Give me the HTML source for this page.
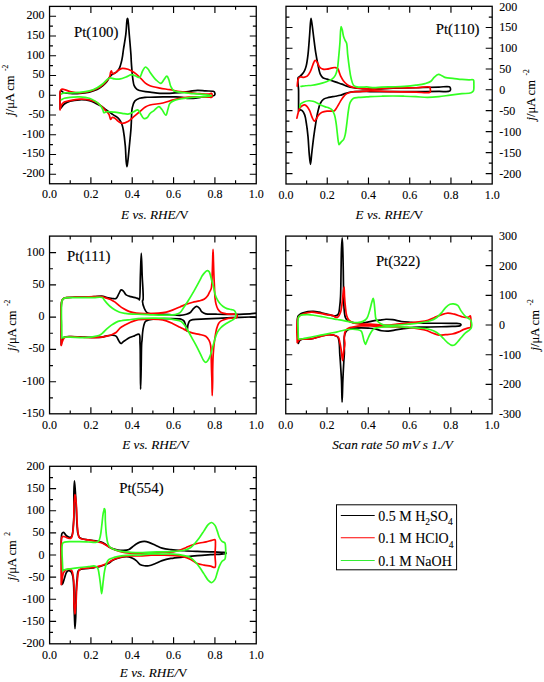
<!DOCTYPE html>
<html><head><meta charset="utf-8"><style>
html,body{margin:0;padding:0;background:#fff;}
svg{display:block;}
text{font-family:"Liberation Serif", serif;fill:#000;stroke:#000;stroke-width:0.1px;}
.tl{font-size:12px;}
.tt{font-size:14.8px;stroke-width:0.15px;}
.xl{font-size:13.2px;}
.yl{font-size:12.5px;}
.lg{font-size:14px;}
</style></head><body>
<svg width="544" height="682" viewBox="0 0 544 682">
<clipPath id="cp1"><rect x="49.55" y="3.4000000000000004" width="206.7" height="180.35"/></clipPath>
<path d="M60.06,108.87C60.18,103.08 59.41,93.28 60.44,91.50C60.70,91.05 61.04,90.89 61.41,90.92C61.95,90.96 62.43,92.07 63.34,92.46C64.85,93.12 67.63,93.25 70.09,93.43C73.02,93.64 76.53,93.65 79.74,93.43C82.97,93.20 86.38,92.77 89.39,92.08C92.14,91.44 94.79,90.69 97.11,89.57C99.26,88.53 101.23,87.08 102.90,85.71C104.39,84.49 105.64,83.28 106.76,81.85C107.90,80.39 108.61,78.37 109.66,77.02C110.56,75.87 111.45,74.92 112.56,74.13C113.69,73.31 115.31,73.12 116.42,72.20C117.58,71.22 118.53,69.83 119.31,68.34C120.19,66.66 120.70,64.57 121.24,62.55C121.81,60.40 122.23,57.96 122.59,55.79C122.92,53.79 123.02,52.40 123.36,50.00C123.94,46.06 125.19,39.54 125.81,34.41C126.41,29.45 126.61,22.05 127.06,19.71C127.20,18.95 127.35,18.24 127.50,18.24C127.65,18.24 127.80,18.95 127.94,19.71C128.39,22.05 128.81,29.10 129.26,34.41C129.81,40.70 130.63,50.04 130.96,55.00C131.14,57.80 131.14,59.30 131.28,61.58C131.43,64.05 131.62,66.59 131.86,69.30C132.12,72.34 132.38,76.03 132.82,78.95C133.19,81.41 133.38,83.89 134.17,85.71C134.80,87.14 135.69,88.37 136.68,89.18C137.53,89.89 138.42,90.15 139.58,90.53C141.15,91.05 143.54,91.43 145.37,91.69C146.99,91.92 148.17,91.89 150.00,92.08C152.69,92.35 156.61,93.08 159.93,93.28C163.23,93.48 166.55,93.38 169.85,93.28C173.16,93.18 176.48,93.01 179.78,92.68C183.09,92.35 186.58,91.71 189.71,91.29C192.50,90.92 195.00,90.37 197.65,90.30C200.29,90.24 202.97,90.73 205.59,90.90C208.13,91.06 211.65,90.86 213.13,91.29C213.81,91.49 214.25,91.62 214.52,92.09C214.90,92.75 215.03,94.60 214.52,95.26C214.02,95.92 212.84,95.81 211.54,96.06C209.18,96.51 204.32,96.83 201.42,97.25C199.23,97.57 197.69,98.04 195.66,98.24C193.42,98.47 190.82,98.62 188.51,98.44C186.33,98.27 184.30,97.51 182.16,97.25C180.00,96.98 178.15,96.93 175.61,96.85C172.07,96.75 167.16,96.79 162.90,96.85C158.62,96.92 153.22,97.19 150.00,97.25C148.07,97.29 146.99,97.15 145.37,97.29C143.54,97.45 141.36,97.60 139.58,98.25C137.83,98.90 135.95,99.70 134.75,101.15C133.39,102.79 132.83,105.14 132.24,107.90C131.38,111.95 131.52,119.28 131.28,123.35C131.12,125.99 131.10,127.24 130.89,129.91C130.57,134.11 129.87,140.87 129.35,146.13C128.87,151.10 128.40,156.85 127.90,160.65C127.58,163.10 127.23,166.70 126.94,166.69C126.64,166.69 126.36,163.10 126.13,160.65C125.77,156.85 125.77,151.09 125.32,146.13C124.85,140.89 123.98,133.76 123.31,130.00C122.94,127.94 122.67,126.75 122.21,125.28C121.78,123.91 121.35,122.62 120.66,121.42C119.95,120.17 119.01,118.91 117.96,117.94C116.94,116.99 115.59,116.36 114.49,115.62C113.48,114.95 112.56,114.34 111.59,113.69C110.62,113.05 109.72,112.49 108.69,111.76C107.49,110.91 106.12,109.83 104.83,108.87C103.55,107.90 102.44,106.88 100.97,105.97C99.28,104.93 97.13,103.98 95.18,103.08C93.27,102.18 91.62,101.13 89.39,100.57C86.63,99.88 82.95,99.70 79.74,99.80C76.52,99.89 72.84,100.29 70.09,101.15C67.85,101.85 65.81,102.85 64.30,104.04C63.04,105.04 62.21,106.64 61.41,107.52C60.89,108.09 60.51,108.42 60.06,108.87" fill="none" stroke="#000" stroke-width="1.7" stroke-linejoin="round" stroke-linecap="round" clip-path="url(#cp1)"/>
<path d="M60.06,109.83C60.18,103.40 59.44,93.17 60.44,90.53C60.75,89.73 61.06,89.38 61.60,89.18C62.27,88.93 63.24,89.32 64.30,89.57C65.88,89.94 67.89,90.98 70.09,91.50C72.87,92.15 76.53,92.85 79.74,92.85C82.96,92.85 86.39,92.26 89.39,91.50C92.15,90.80 94.79,89.80 97.11,88.60C99.25,87.51 101.23,86.12 102.90,84.74C104.39,83.52 105.61,82.21 106.76,80.88C107.85,79.63 109.02,78.46 109.66,77.02C110.31,75.57 110.22,73.29 110.62,72.20C110.85,71.58 111.13,70.83 111.40,70.85C111.76,70.87 111.92,73.20 112.56,73.55C113.13,73.86 114.07,73.53 114.87,73.16C115.98,72.65 117.11,71.08 118.35,70.27C119.56,69.48 120.75,68.56 122.21,68.34C123.90,68.08 126.11,68.69 128.00,69.30C129.98,69.95 131.92,70.98 133.79,72.20C135.80,73.51 137.70,75.25 139.58,77.02C141.57,78.90 143.42,81.70 145.37,83.20C146.90,84.38 148.11,84.98 150.00,85.71C152.63,86.72 156.60,87.45 159.93,88.12C163.22,88.78 166.55,89.11 169.85,89.71C173.17,90.30 176.46,91.19 179.78,91.69C183.08,92.18 186.40,92.35 189.71,92.68C193.01,93.01 196.32,93.44 199.63,93.68C202.94,93.91 207.54,94.42 209.56,94.07C210.50,93.91 211.12,93.02 211.54,93.28C212.12,93.63 212.46,96.67 211.94,97.25C211.54,97.70 210.69,97.27 209.56,97.25C206.77,97.21 199.75,96.74 195.07,96.85C190.64,96.96 186.05,97.27 182.16,97.85C178.89,98.33 176.30,99.02 173.23,99.83C169.89,100.71 166.57,102.17 162.90,103.01C158.87,103.93 153.18,104.09 150.00,104.99C148.03,105.55 146.93,105.99 145.37,106.94C143.46,108.10 141.51,110.16 139.58,111.76C137.65,113.37 135.72,114.98 133.79,116.59C131.86,118.20 130.04,120.28 128.00,121.42C126.16,122.44 123.92,123.47 122.21,123.35C120.77,123.24 119.58,122.26 118.35,121.42C116.99,120.49 115.69,118.52 114.49,117.94C113.68,117.55 112.81,117.31 112.17,117.56C111.51,117.81 111.08,119.57 110.62,119.49C109.98,119.37 109.89,116.11 109.08,114.66C108.28,113.21 107.03,112.13 105.80,110.80C104.37,109.25 102.62,107.45 100.97,105.97C99.40,104.57 97.99,103.13 96.15,102.11C94.17,101.03 91.88,100.29 89.39,99.80C86.50,99.23 82.95,99.09 79.74,99.22C76.52,99.35 72.89,100.00 70.09,100.57C67.90,101.01 65.81,101.24 64.30,102.11C63.05,102.83 62.11,103.81 61.41,105.01C60.63,106.33 60.51,108.23 60.06,109.83" fill="none" stroke="#f00" stroke-width="1.7" stroke-linejoin="round" stroke-linecap="round" clip-path="url(#cp1)"/>
<path d="M61.41,94.01C62.37,93.62 63.15,93.07 64.30,92.85C65.88,92.55 67.92,92.89 70.09,92.85C72.90,92.79 76.54,92.78 79.74,92.46C82.97,92.14 86.40,91.78 89.39,90.92C92.16,90.12 94.78,88.90 97.11,87.64C99.24,86.49 101.23,85.15 102.90,83.78C104.39,82.56 105.52,80.94 106.76,79.92C107.76,79.10 108.52,78.21 109.66,77.99C111.02,77.72 112.79,78.78 114.49,78.95C116.32,79.13 118.37,79.26 120.28,78.95C122.23,78.63 124.15,77.73 126.07,77.02C128.01,76.31 130.11,74.74 131.86,74.71C133.27,74.67 134.43,75.61 135.72,76.06C137.00,76.51 138.53,77.85 139.58,77.41C140.93,76.84 141.43,73.06 142.47,71.23C143.38,69.64 144.31,67.14 145.37,66.99C146.27,66.85 147.48,68.41 148.26,69.30C149.01,70.16 149.20,71.03 150.00,72.20C151.35,74.16 153.92,77.83 155.96,79.78C157.58,81.33 159.54,83.53 160.92,83.35C162.12,83.20 162.90,80.97 163.90,79.78C164.89,78.59 166.03,76.13 166.88,76.21C167.67,76.28 168.27,78.35 168.86,79.78C169.65,81.68 169.89,84.81 170.85,86.73C171.64,88.32 172.45,89.80 173.82,90.70C175.34,91.69 177.53,91.69 179.78,92.09C182.66,92.59 186.39,92.95 189.71,93.28C193.01,93.61 196.33,93.74 199.63,94.07C202.94,94.40 207.52,94.94 209.56,95.26C210.48,95.41 211.54,95.53 211.54,95.66C211.54,95.79 210.48,95.93 209.56,96.06C207.52,96.34 202.94,96.59 199.63,96.85C196.32,97.12 193.01,97.28 189.71,97.65C186.39,98.01 182.65,98.45 179.78,99.04C177.53,99.49 175.54,99.79 173.82,100.62C172.28,101.37 170.83,102.25 169.85,103.60C168.75,105.13 168.54,107.61 167.87,109.56C167.22,111.45 166.82,114.99 165.88,115.12C164.88,115.26 163.20,111.08 161.91,109.56C160.90,108.36 160.09,106.64 158.93,106.58C157.52,106.50 155.54,109.33 153.97,110.55C152.58,111.63 151.12,112.35 150.00,113.53C148.90,114.69 148.44,116.73 147.30,117.56C146.32,118.26 144.85,118.90 143.82,118.52C142.52,118.04 141.62,115.20 140.54,113.69C139.56,112.32 138.82,110.11 137.65,109.83C136.54,109.57 135.22,111.12 133.79,111.76C132.07,112.54 129.96,113.84 128.00,114.08C126.10,114.32 124.27,113.60 122.21,113.31C119.82,112.97 117.07,112.41 114.49,112.15C111.92,111.89 108.70,111.50 106.76,111.76C105.55,111.93 104.51,113.05 103.87,112.73C103.23,112.41 103.39,110.89 102.90,109.83C102.24,108.40 101.25,106.43 100.01,105.01C98.71,103.52 96.93,102.27 95.18,101.15C93.40,100.01 91.63,98.95 89.39,98.25C86.64,97.40 82.97,97.06 79.74,96.90C76.53,96.74 72.89,97.00 70.09,97.29C67.91,97.51 65.87,97.72 64.30,98.25C63.13,98.65 62.37,99.28 61.41,99.80" fill="none" stroke="#3f2" stroke-width="1.7" stroke-linejoin="round" stroke-linecap="round" clip-path="url(#cp1)"/>
<rect x="49.55" y="6.4" width="206.7" height="177.35" fill="none" stroke="#000" stroke-width="1.3"/>
<path d="M70.22,183.75v-3.4M70.22,6.4v3.4M90.89,183.75v-6.5M90.89,6.4v6.5M111.56,183.75v-3.4M111.56,6.4v3.4M132.23,183.75v-6.5M132.23,6.4v6.5M152.90,183.75v-3.4M152.90,6.4v3.4M173.57,183.75v-6.5M173.57,6.4v6.5M194.24,183.75v-3.4M194.24,6.4v3.4M214.91,183.75v-6.5M214.91,6.4v6.5M235.58,183.75v-3.4M235.58,6.4v3.4M49.55,174.25h6.5M256.25,174.25h-6.5M49.55,164.38h3.4M256.25,164.38h-3.4M49.55,154.50h6.5M256.25,154.50h-6.5M49.55,144.62h3.4M256.25,144.62h-3.4M49.55,134.75h6.5M256.25,134.75h-6.5M49.55,124.88h3.4M256.25,124.88h-3.4M49.55,115.00h6.5M256.25,115.00h-6.5M49.55,105.12h3.4M256.25,105.12h-3.4M49.55,95.25h6.5M256.25,95.25h-6.5M49.55,85.38h3.4M256.25,85.38h-3.4M49.55,75.50h6.5M256.25,75.50h-6.5M49.55,65.62h3.4M256.25,65.62h-3.4M49.55,55.75h6.5M256.25,55.75h-6.5M49.55,45.88h3.4M256.25,45.88h-3.4M49.55,36.00h6.5M256.25,36.00h-6.5M49.55,26.12h3.4M256.25,26.12h-3.4M49.55,16.25h6.5M256.25,16.25h-6.5" stroke="#000" stroke-width="1.15" fill="none"/>
<text x="49.55" y="197.95" text-anchor="middle" class="tl">0.0</text>
<text x="90.89" y="197.95" text-anchor="middle" class="tl">0.2</text>
<text x="132.23" y="197.95" text-anchor="middle" class="tl">0.4</text>
<text x="173.57" y="197.95" text-anchor="middle" class="tl">0.6</text>
<text x="214.91" y="197.95" text-anchor="middle" class="tl">0.8</text>
<text x="256.25" y="197.95" text-anchor="middle" class="tl">1.0</text>
<text x="44.45" y="177.15" text-anchor="end" class="tl">-200</text>
<text x="44.45" y="157.40" text-anchor="end" class="tl">-150</text>
<text x="44.45" y="137.65" text-anchor="end" class="tl">-100</text>
<text x="44.45" y="117.90" text-anchor="end" class="tl">-50</text>
<text x="44.45" y="98.15" text-anchor="end" class="tl">0</text>
<text x="44.45" y="78.40" text-anchor="end" class="tl">50</text>
<text x="44.45" y="58.65" text-anchor="end" class="tl">100</text>
<text x="44.45" y="38.90" text-anchor="end" class="tl">150</text>
<text x="44.45" y="19.15" text-anchor="end" class="tl">200</text>
<text x="74.0" y="36.5" class="tt">Pt(100)</text>
<text x="155.00" y="218.90" text-anchor="middle" class="xl"><tspan font-style="italic">E vs. RHE/</tspan>V</text>
<text transform="translate(13.9,115.80) rotate(-90)" class="yl"><tspan font-style="italic">j</tspan>/μA cm<tspan dx="4.5" dy="-6" font-size="7.5">-2</tspan></text>
<clipPath id="cp2"><rect x="286.0" y="3.3" width="206.2" height="180.7"/></clipPath>
<path d="M298.56,111.18C298.56,104.12 298.68,96.09 298.56,90.00C298.46,85.37 297.18,79.74 298.06,77.79C298.43,76.98 299.12,76.99 299.72,76.47C300.47,75.82 301.42,75.08 302.20,74.15C303.10,73.09 304.00,71.75 304.68,70.35C305.41,68.85 305.85,67.38 306.33,65.39C307.03,62.51 307.50,58.77 307.99,54.63C308.65,49.03 309.13,41.10 309.64,34.78C310.11,29.01 310.42,18.26 310.97,18.24C311.31,18.22 311.74,22.26 312.12,24.85C312.67,28.50 313.19,33.55 313.78,38.09C314.40,42.91 315.02,48.33 315.76,52.98C316.42,57.09 317.11,60.86 317.92,64.56C318.67,68.01 319.28,72.14 320.40,74.49C321.11,75.98 321.80,77.02 322.88,77.79C323.99,78.58 325.57,78.65 327.01,79.12C328.60,79.63 330.32,80.22 331.98,80.77C333.63,81.32 335.29,81.88 336.94,82.43C338.60,82.98 340.26,83.48 341.90,84.08C343.57,84.69 345.07,85.49 346.87,86.07C348.89,86.72 351.14,87.31 353.49,87.72C356.07,88.17 358.73,88.34 361.76,88.55C365.44,88.81 369.47,89.05 374.00,89.04C379.64,89.03 386.35,88.41 392.98,88.20C400.27,87.96 408.30,87.93 415.96,87.74C423.62,87.55 432.78,87.21 438.93,87.05C443.06,86.94 447.61,86.06 449.27,86.82C449.97,87.13 450.26,87.62 450.42,88.20C450.62,88.93 450.68,90.32 449.96,90.96C448.53,92.22 443.28,91.30 438.93,91.42C432.67,91.58 423.62,91.61 415.96,91.65C408.30,91.68 400.64,91.65 392.98,91.65C385.32,91.65 375.34,91.78 370.00,91.65C367.14,91.58 365.73,91.33 363.41,91.32C360.81,91.31 357.74,91.44 355.14,91.65C352.81,91.85 350.55,92.02 348.52,92.48C346.73,92.89 345.04,93.63 343.56,94.14C342.34,94.55 341.48,94.96 340.25,95.29C338.78,95.70 337.06,95.95 335.29,96.29C333.24,96.67 330.70,96.93 328.67,97.44C326.88,97.90 325.08,98.14 323.71,99.10C322.32,100.06 321.30,101.51 320.40,103.24C319.24,105.43 318.64,108.50 317.92,111.51C317.06,115.02 316.44,119.09 315.76,123.09C315.05,127.35 314.41,131.66 313.78,136.32C313.08,141.53 312.38,147.84 311.79,152.87C311.30,157.07 310.91,164.45 310.47,164.45C310.03,164.45 309.53,157.08 309.15,152.87C308.68,147.85 308.50,141.52 307.99,136.32C307.53,131.66 306.97,126.97 306.33,123.09C305.83,120.00 305.54,117.04 304.68,114.82C304.03,113.13 303.20,111.48 302.20,110.68C301.46,110.09 300.35,109.68 299.72,109.85C299.20,109.99 298.94,110.74 298.56,111.18" fill="none" stroke="#000" stroke-width="1.7" stroke-linejoin="round" stroke-linecap="round" clip-path="url(#cp2)"/>
<path d="M297.24,86.07C297.40,84.41 297.41,82.57 297.73,81.10C298.00,79.87 298.29,78.48 298.89,77.79C299.33,77.30 299.88,77.09 300.54,76.97C301.44,76.80 302.76,77.43 303.85,77.30C304.97,77.16 306.17,76.91 307.16,76.14C308.45,75.14 309.53,73.01 310.47,71.18C311.49,69.18 312.09,66.48 312.95,64.56C313.65,63.00 314.29,60.59 315.10,60.42C315.71,60.30 316.47,61.29 317.09,62.08C318.00,63.23 318.48,65.82 319.57,67.04C320.49,68.07 321.66,68.83 322.88,69.19C324.13,69.56 325.65,69.35 327.01,69.19C328.40,69.03 329.77,68.47 331.15,68.20C332.52,67.92 334.10,67.37 335.29,67.54C336.24,67.67 337.11,68.00 337.77,68.69C338.60,69.58 338.87,71.45 339.42,72.83C339.97,74.21 340.41,75.61 341.08,76.97C341.78,78.37 342.58,79.85 343.56,81.10C344.52,82.33 345.71,83.50 346.87,84.41C347.92,85.24 348.92,85.87 350.18,86.40C351.63,87.01 353.35,87.37 355.14,87.72C357.17,88.12 359.21,88.34 361.76,88.55C365.21,88.83 369.47,89.08 374.00,89.04C379.64,89.00 386.35,88.19 392.98,87.97C400.27,87.73 409.27,87.94 415.96,87.74C421.14,87.58 428.23,85.97 429.74,87.05C430.27,87.43 430.11,88.01 430.20,88.66C430.33,89.58 430.97,91.33 430.20,92.10C428.64,93.67 421.27,92.16 415.96,92.10C409.21,92.04 400.64,91.84 392.98,91.65C385.32,91.45 376.35,90.86 370.00,90.96C365.49,91.02 361.77,91.47 358.45,91.65C355.94,91.79 353.85,91.60 351.83,91.99C350.03,92.32 348.28,92.82 346.87,93.64C345.56,94.40 344.59,95.42 343.56,96.62C342.36,98.00 341.32,99.84 340.25,101.58C339.11,103.42 338.01,105.74 336.94,107.37C336.10,108.66 335.42,110.08 334.46,110.68C333.71,111.15 332.95,111.08 331.98,111.18C330.61,111.31 328.66,110.99 327.01,111.18C325.35,111.37 323.48,111.67 322.05,112.33C320.76,112.93 319.68,113.77 318.74,114.82C317.73,115.94 317.10,117.83 316.26,118.95C315.61,119.83 314.90,121.18 314.28,121.10C313.51,121.01 312.81,118.77 312.12,117.30C311.25,115.42 310.57,112.59 309.64,110.68C308.88,109.10 308.11,107.54 307.16,106.54C306.41,105.76 305.54,105.00 304.68,104.89C303.88,104.78 302.97,105.24 302.20,105.72C301.30,106.27 300.38,107.13 299.72,108.20C298.91,109.50 298.53,111.50 298.06,113.16C297.60,114.81 297.29,116.47 296.90,118.12" fill="none" stroke="#f00" stroke-width="1.7" stroke-linejoin="round" stroke-linecap="round" clip-path="url(#cp2)"/>
<path d="M301.04,86.40C302.53,86.18 303.87,85.92 305.51,85.74C307.49,85.51 310.08,85.49 312.12,85.24C313.90,85.02 315.44,84.77 317.09,84.41C318.75,84.05 320.40,83.58 322.05,83.09C323.71,82.59 325.38,82.09 327.01,81.43C328.69,80.77 330.58,80.17 331.98,79.12C333.32,78.11 334.42,76.81 335.29,75.31C336.24,73.66 336.75,71.82 337.27,69.52C337.99,66.36 338.18,62.05 338.60,57.94C339.07,53.29 339.51,48.15 339.92,43.05C340.35,37.68 340.38,26.60 341.08,26.51C341.40,26.46 341.88,28.51 342.24,29.82C342.73,31.63 342.99,34.51 343.56,36.43C344.02,38.00 344.66,39.38 345.21,40.57C345.65,41.52 346.18,41.87 346.54,43.05C347.27,45.45 347.25,50.65 347.69,54.63C348.17,58.90 348.75,63.78 349.35,67.87C349.87,71.42 350.25,74.75 351.00,77.79C351.67,80.48 352.20,83.75 353.49,85.24C354.37,86.26 355.54,86.55 356.79,86.89C358.25,87.29 360.10,87.22 361.76,87.22C363.41,87.22 364.91,86.85 366.72,86.89C368.92,86.94 371.55,87.69 374.00,87.72C376.48,87.75 378.72,87.20 381.49,87.05C384.91,86.86 389.15,86.93 392.98,86.82C396.81,86.70 400.64,86.63 404.47,86.36C408.30,86.09 412.35,85.71 415.96,85.21C419.20,84.77 422.48,84.36 425.15,83.60C427.32,82.98 429.33,82.44 430.89,81.31C432.35,80.25 433.04,78.33 434.34,77.17C435.58,76.05 437.08,74.55 438.47,74.41C439.76,74.28 441.13,75.47 442.38,76.02C443.57,76.54 444.44,77.25 445.83,77.63C447.70,78.14 450.26,78.04 452.72,78.32C455.57,78.64 459.06,79.19 461.91,79.47C464.37,79.70 466.74,79.86 468.81,79.93C470.49,79.98 472.57,79.18 473.40,79.93C474.19,80.63 473.83,82.51 473.86,84.06C473.90,86.07 474.17,89.48 473.40,90.96C472.90,91.92 472.22,92.34 471.10,92.79C469.13,93.60 465.14,93.36 461.91,93.71C458.29,94.11 454.25,94.59 450.42,95.09C446.59,95.59 442.77,96.32 438.93,96.70C435.11,97.08 431.27,97.39 427.44,97.39C423.62,97.39 419.79,96.89 415.96,96.70C412.13,96.51 408.30,96.36 404.47,96.24C400.64,96.13 396.81,96.01 392.98,96.01C389.15,96.01 385.32,96.13 381.49,96.24C377.66,96.36 372.67,96.55 370.00,96.70C368.57,96.78 368.06,96.86 366.72,96.95C364.59,97.09 360.85,97.17 358.45,97.44C356.58,97.66 354.85,97.47 353.49,98.27C352.08,99.10 350.99,100.72 350.18,102.41C349.20,104.44 349.02,107.00 348.52,109.85C347.87,113.62 347.44,118.83 346.87,123.09C346.33,127.08 345.93,131.64 345.21,134.67C344.73,136.70 344.36,138.33 343.56,139.63C342.90,140.70 341.84,141.27 341.08,142.11C340.35,142.92 339.56,144.70 339.09,144.60C338.61,144.49 338.52,142.65 338.26,141.29C337.87,139.16 337.61,135.90 337.27,133.01C336.90,129.86 336.61,126.24 336.11,123.09C335.66,120.20 335.27,117.18 334.46,114.82C333.80,112.90 333.08,111.04 331.98,109.85C331.06,108.86 329.80,108.37 328.67,107.87C327.60,107.39 326.52,107.28 325.36,106.88C324.05,106.42 322.58,105.87 321.22,105.22C319.82,104.55 318.49,103.57 317.09,102.90C315.73,102.26 314.35,101.61 312.95,101.25C311.60,100.90 310.25,100.67 308.82,100.75C307.23,100.84 305.29,101.30 303.85,101.91C302.58,102.45 301.23,103.10 300.54,104.06C299.91,104.96 299.99,106.27 299.72,107.37" fill="none" stroke="#3f2" stroke-width="1.7" stroke-linejoin="round" stroke-linecap="round" clip-path="url(#cp2)"/>
<rect x="286.0" y="6.3" width="206.2" height="177.7" fill="none" stroke="#000" stroke-width="1.3"/>
<path d="M306.62,184.0v-3.4M306.62,6.3v3.4M327.24,184.0v-6.5M327.24,6.3v6.5M347.86,184.0v-3.4M347.86,6.3v3.4M368.48,184.0v-6.5M368.48,6.3v6.5M389.10,184.0v-3.4M389.10,6.3v3.4M409.72,184.0v-6.5M409.72,6.3v6.5M430.34,184.0v-3.4M430.34,6.3v3.4M450.96,184.0v-6.5M450.96,6.3v6.5M471.58,184.0v-3.4M471.58,6.3v3.4M286.0,173.60h6.5M492.2,173.60h-6.5M286.0,163.11h3.4M492.2,163.11h-3.4M286.0,152.62h6.5M492.2,152.62h-6.5M286.0,142.14h3.4M492.2,142.14h-3.4M286.0,131.65h6.5M492.2,131.65h-6.5M286.0,121.16h3.4M492.2,121.16h-3.4M286.0,110.67h6.5M492.2,110.67h-6.5M286.0,100.19h3.4M492.2,100.19h-3.4M286.0,89.70h6.5M492.2,89.70h-6.5M286.0,79.33h3.4M492.2,79.33h-3.4M286.0,68.95h6.5M492.2,68.95h-6.5M286.0,58.58h3.4M492.2,58.58h-3.4M286.0,48.20h6.5M492.2,48.20h-6.5M286.0,37.83h3.4M492.2,37.83h-3.4M286.0,27.45h6.5M492.2,27.45h-6.5M286.0,17.08h3.4M492.2,17.08h-3.4" stroke="#000" stroke-width="1.15" fill="none"/>
<text x="286.00" y="198.50" text-anchor="middle" class="tl">0.0</text>
<text x="327.24" y="198.50" text-anchor="middle" class="tl">0.2</text>
<text x="368.48" y="198.50" text-anchor="middle" class="tl">0.4</text>
<text x="409.72" y="198.50" text-anchor="middle" class="tl">0.6</text>
<text x="450.96" y="198.50" text-anchor="middle" class="tl">0.8</text>
<text x="492.20" y="198.50" text-anchor="middle" class="tl">1.0</text>
<text x="499.20" y="177.60" text-anchor="start" class="tl">-200</text>
<text x="499.20" y="156.62" text-anchor="start" class="tl">-150</text>
<text x="499.20" y="135.65" text-anchor="start" class="tl">-100</text>
<text x="499.20" y="114.67" text-anchor="start" class="tl">-50</text>
<text x="499.20" y="93.70" text-anchor="start" class="tl">0</text>
<text x="499.20" y="72.95" text-anchor="start" class="tl">50</text>
<text x="499.20" y="52.20" text-anchor="start" class="tl">100</text>
<text x="499.20" y="31.45" text-anchor="start" class="tl">150</text>
<text x="499.20" y="10.70" text-anchor="start" class="tl">200</text>
<text x="435.7" y="34.3" class="tt">Pt(110)</text>
<text x="389.50" y="219.40" text-anchor="middle" class="xl"><tspan font-style="italic">E vs. RHE/</tspan>V</text>
<text transform="translate(534.6,120.50) rotate(-90)" class="yl"><tspan font-style="italic">j</tspan>/μA cm<tspan dx="4.5" dy="-6" font-size="7.5">-2</tspan></text>
<clipPath id="cp3"><rect x="49.55" y="233.1" width="206.64999999999998" height="180.70000000000002"/></clipPath>
<path d="M61.24,344.45C61.24,338.01 61.16,331.92 61.24,325.15C61.32,317.61 60.54,305.21 61.79,301.25C62.25,299.78 62.82,299.11 63.62,298.49C64.38,297.92 65.17,297.79 66.38,297.57C68.53,297.18 72.51,297.30 75.57,297.21C78.64,297.11 81.70,297.11 84.76,297.02C87.83,296.93 90.89,296.78 93.96,296.65C97.02,296.53 100.80,295.94 103.15,296.29C104.68,296.52 105.46,297.22 106.82,297.57C108.46,297.99 110.68,298.36 112.34,298.49C113.68,298.60 115.00,299.07 116.01,298.49C117.24,297.80 117.89,295.38 118.77,293.90C119.60,292.51 120.25,290.09 121.16,289.85C121.83,289.68 122.65,290.50 123.37,291.14C124.33,291.99 124.93,293.90 126.12,294.82C127.36,295.76 129.10,296.14 130.72,296.65C132.46,297.20 134.73,297.47 136.24,297.94C137.33,298.28 138.47,298.58 138.99,299.04C139.31,299.33 139.36,300.04 139.52,300.00C140.26,299.82 140.09,283.21 140.40,275.19C140.68,267.64 140.98,253.20 141.28,253.20C141.57,253.20 141.87,267.64 142.16,275.19C142.46,283.21 143.74,297.94 143.04,300.00C142.92,300.34 142.68,300.21 142.61,300.51C142.36,301.55 143.39,306.08 144.26,308.24C144.97,309.98 145.82,311.69 147.02,312.65C148.09,313.49 149.35,313.68 150.88,313.97C152.99,314.37 155.80,314.20 158.60,314.30C161.95,314.42 166.01,314.44 169.63,314.63C173.14,314.82 176.96,315.57 180.00,315.40C182.41,315.27 184.59,314.76 186.43,314.19C187.91,313.74 189.22,313.34 190.29,312.52C191.36,311.70 191.87,310.29 192.87,309.30C193.92,308.26 195.31,306.57 196.47,306.47C197.44,306.39 198.46,307.25 199.30,308.01C200.31,308.94 200.77,310.90 201.88,311.88C202.94,312.81 204.08,313.38 205.74,313.81C208.29,314.46 212.25,314.09 216.03,314.19C220.66,314.32 226.09,314.50 231.47,314.45C237.37,314.40 244.80,313.96 250.00,313.81C253.78,313.69 258.59,312.39 259.78,313.55C260.46,314.21 260.46,316.07 259.78,316.76C258.59,317.98 253.78,316.91 250.00,317.02C244.80,317.18 237.08,317.43 231.47,317.67C226.79,317.86 222.89,318.09 218.60,318.31C214.31,318.52 210.02,318.74 205.74,318.95C201.45,319.17 195.69,318.98 192.87,319.60C191.40,319.92 190.45,320.10 189.65,320.88C188.77,321.74 188.39,323.26 187.98,324.74C187.46,326.58 187.47,331.16 187.08,331.18C186.72,331.20 186.32,327.73 185.79,326.03C185.25,324.30 184.80,322.01 183.86,320.88C183.16,320.05 182.01,319.66 181.29,319.34C180.80,319.12 180.68,319.06 180.00,318.95C177.66,318.59 168.93,318.63 164.12,318.71C160.11,318.78 155.93,319.02 153.09,319.26C151.28,319.42 150.01,319.41 148.68,319.82C147.46,320.18 146.18,320.57 145.37,321.47C144.45,322.49 144.15,324.24 143.71,325.88C143.19,327.84 142.88,330.22 142.61,332.50C142.32,334.92 142.25,337.98 142.06,340.00C141.93,341.38 141.77,341.79 141.66,343.46C141.36,347.80 141.37,359.20 141.19,366.92C141.01,374.45 140.74,389.21 140.60,389.21C140.46,389.21 140.46,374.45 140.37,366.92C140.27,359.20 140.37,349.47 140.01,343.46C139.79,339.70 140.44,335.20 139.08,334.31C138.08,333.66 135.94,335.29 134.38,335.84C132.81,336.39 131.22,336.84 129.69,337.60C128.09,338.39 126.15,339.76 125.00,340.53C124.31,340.99 123.96,341.25 123.37,341.69C122.64,342.23 121.72,343.62 120.98,343.53C120.18,343.43 119.51,341.84 118.77,340.77C117.86,339.46 117.23,337.07 116.01,336.18C115.00,335.42 113.70,335.36 112.34,335.26C110.69,335.14 108.56,335.48 106.82,335.81C105.21,336.11 104.00,336.81 102.23,337.10C99.89,337.47 96.79,337.46 93.96,337.46C90.97,337.47 88.19,337.23 84.76,337.10C80.44,336.93 73.78,336.43 70.06,336.54C67.78,336.62 65.98,336.42 64.54,337.10C63.34,337.67 62.35,338.70 61.79,339.85C61.18,341.11 61.42,342.92 61.24,344.45" fill="none" stroke="#000" stroke-width="1.7" stroke-linejoin="round" stroke-linecap="round" clip-path="url(#cp3)"/>
<path d="M61.24,345.37C61.24,338.63 61.15,332.17 61.24,325.15C61.32,317.51 60.54,305.21 61.79,301.25C62.25,299.78 62.82,299.11 63.62,298.49C64.38,297.92 65.17,297.79 66.38,297.57C68.53,297.18 72.51,297.30 75.57,297.21C78.64,297.11 81.70,297.11 84.76,297.02C87.83,296.93 90.97,296.71 93.96,296.65C96.79,296.60 100.23,296.33 102.23,296.65C103.41,296.85 103.91,297.21 104.99,297.57C106.51,298.08 108.79,298.62 110.50,299.41C112.15,300.17 113.69,301.16 115.10,302.17C116.43,303.13 117.46,304.26 118.77,305.29C120.20,306.41 121.72,307.61 123.37,308.60C125.08,309.64 126.87,310.61 128.88,311.36C131.12,312.19 133.50,312.82 136.24,313.20C139.58,313.66 143.82,313.53 147.57,313.53C151.28,313.53 155.26,313.49 158.60,313.20C161.41,312.96 163.87,312.67 166.32,312.10C168.64,311.55 170.72,310.73 172.94,309.89C175.27,309.01 177.70,307.89 180.00,306.91C182.20,305.98 184.27,304.94 186.43,304.15C188.56,303.38 190.71,302.76 192.87,302.22C195.00,301.69 197.30,301.51 199.30,300.94C201.14,300.41 203.01,299.93 204.45,299.01C205.75,298.17 206.80,296.99 207.67,295.79C208.51,294.62 208.98,293.19 209.60,291.93C210.18,290.73 210.86,290.00 211.28,288.39C212.04,285.43 211.94,279.59 212.16,275.19C212.38,270.79 212.45,266.36 212.60,261.99C212.74,257.71 212.89,249.24 213.04,249.24C213.18,249.24 213.33,257.71 213.48,261.99C213.62,266.36 213.74,270.79 213.91,275.19C214.09,279.59 214.34,284.37 214.53,288.39C214.69,291.77 214.70,294.91 215.00,297.72C215.25,300.07 215.50,302.15 216.03,304.15C216.52,305.99 217.04,307.87 217.96,309.30C218.80,310.61 219.86,311.77 221.18,312.52C222.60,313.33 224.50,313.52 226.32,313.81C228.34,314.11 230.89,314.07 232.76,314.19C234.21,314.28 235.91,313.98 236.62,314.45C237.05,314.73 237.23,315.26 237.26,315.74C237.30,316.31 237.13,317.25 236.62,317.67C235.91,318.23 234.21,317.88 232.76,318.05C230.88,318.28 228.32,318.44 226.32,318.95C224.48,319.42 222.53,320.01 221.18,320.88C220.08,321.59 219.31,322.36 218.60,323.46C217.73,324.81 217.20,326.77 216.67,328.60C216.10,330.61 215.79,332.71 215.39,335.04C214.92,337.78 214.46,340.94 214.10,344.04C213.72,347.36 213.43,350.54 213.20,354.34C212.92,359.02 212.77,365.23 212.68,370.04C212.61,374.11 212.72,377.33 212.65,381.32C212.58,385.82 212.36,395.69 212.24,395.69C212.12,395.69 212.07,385.82 211.94,381.32C211.82,377.33 211.65,374.11 211.53,370.04C211.38,365.24 211.32,358.85 211.14,354.34C211.00,350.92 211.11,347.89 210.62,345.33C210.25,343.35 209.79,341.71 208.95,340.18C208.14,338.72 207.17,337.27 205.74,336.32C204.08,335.23 201.46,334.93 199.30,334.39C197.17,333.86 194.87,333.68 192.87,333.11C191.03,332.58 189.42,331.92 187.72,331.18C185.98,330.42 183.99,329.31 182.57,328.60C181.57,328.10 181.07,327.86 180.00,327.32C178.23,326.42 175.28,324.76 172.94,323.68C170.72,322.64 168.65,321.61 166.32,320.92C163.89,320.19 161.42,319.77 158.60,319.49C155.27,319.14 151.25,319.15 147.57,319.26C143.89,319.37 139.56,319.52 136.54,320.15C134.36,320.60 132.92,321.23 131.03,322.02C128.89,322.91 126.37,324.23 124.41,325.33C122.77,326.25 121.36,326.95 120.00,328.09C118.55,329.31 117.51,331.38 116.01,332.50C114.63,333.54 112.97,334.09 111.42,334.71C109.91,335.31 108.37,335.78 106.82,336.18C105.30,336.57 103.99,336.86 102.23,337.10C99.88,337.41 96.79,337.58 93.96,337.65C90.97,337.72 88.19,337.60 84.76,337.46C80.43,337.28 73.77,336.29 70.06,336.54C67.77,336.70 65.79,336.76 64.54,337.65C63.55,338.36 63.23,339.60 62.71,340.77C62.10,342.13 61.73,343.84 61.24,345.37" fill="none" stroke="#f00" stroke-width="1.7" stroke-linejoin="round" stroke-linecap="round" clip-path="url(#cp3)"/>
<path d="M61.79,338.01C61.79,326.07 60.95,307.33 61.79,302.17C62.03,300.70 62.11,300.11 62.71,299.41C63.32,298.69 64.31,298.27 65.46,297.94C67.12,297.48 69.38,297.65 71.90,297.57C75.45,297.47 80.84,297.57 84.76,297.57C88.09,297.57 90.97,297.57 93.96,297.57C96.79,297.57 100.55,296.79 102.23,297.57C103.22,298.04 103.39,298.97 104.07,299.78C104.89,300.77 105.81,301.98 106.82,303.09C107.94,304.31 109.16,305.62 110.50,306.76C111.90,307.96 113.52,309.14 115.10,310.07C116.59,310.96 118.05,311.73 119.69,312.28C121.41,312.85 123.23,313.09 125.21,313.38C127.47,313.72 129.95,313.96 132.56,314.12C135.52,314.29 138.77,314.19 142.06,314.30C145.60,314.42 149.41,314.72 153.09,314.85C156.76,314.98 160.44,315.11 164.12,315.07C167.79,315.04 172.26,315.26 175.15,314.63C177.14,314.20 178.65,313.71 180.00,312.65C181.42,311.53 182.20,309.66 183.38,307.96C184.76,305.98 186.16,303.92 187.72,301.45C189.70,298.32 192.10,294.33 194.23,290.61C196.44,286.75 199.41,281.22 200.74,278.68C201.35,277.50 201.48,276.98 202.04,276.07C202.73,274.96 203.72,273.50 204.68,272.55C205.50,271.74 206.51,270.65 207.32,270.62C207.95,270.59 208.60,271.10 209.08,271.67C209.72,272.44 209.99,273.89 210.40,275.19C210.88,276.76 211.23,278.65 211.72,280.47C212.25,282.45 213.06,284.87 213.48,286.63C213.78,287.91 213.83,288.76 214.10,290.00C214.43,291.54 214.83,293.51 215.39,295.15C215.92,296.72 216.55,298.24 217.32,299.65C218.06,301.02 218.91,302.36 219.89,303.51C220.84,304.63 221.93,305.61 223.11,306.47C224.29,307.33 225.59,308.14 226.97,308.66C228.37,309.18 230.18,309.24 231.47,309.56C232.45,309.80 233.36,309.84 234.04,310.33C234.73,310.82 235.30,311.67 235.59,312.52C235.90,313.45 235.83,314.76 235.72,315.74C235.62,316.58 235.52,317.39 235.07,318.05C234.58,318.78 233.66,319.27 232.76,319.85C231.66,320.57 230.22,321.14 228.90,321.91C227.44,322.76 225.80,323.72 224.39,324.74C223.02,325.74 221.69,326.71 220.53,327.96C219.32,329.27 218.21,330.76 217.32,332.46C216.32,334.36 215.72,336.64 215.00,338.90C214.22,341.34 213.57,343.95 212.81,346.62C211.99,349.50 211.23,353.08 210.24,355.62C209.46,357.62 208.60,359.62 207.67,360.77C207.05,361.53 206.38,362.32 205.74,362.32C205.09,362.32 204.44,361.56 203.81,360.77C202.72,359.43 201.71,356.58 200.59,354.34C199.36,351.88 198.04,349.12 196.73,346.62C195.46,344.20 194.15,341.90 192.87,339.54C191.58,337.18 190.32,334.75 189.01,332.46C187.74,330.25 186.52,327.93 185.15,326.03C183.93,324.34 182.91,322.56 181.29,321.53C179.60,320.45 177.51,320.30 175.15,319.82C172.02,319.18 167.80,318.66 164.12,318.38C160.45,318.11 156.76,318.16 153.09,318.16C149.41,318.16 145.73,318.16 142.06,318.38C138.38,318.60 134.70,319.06 131.03,319.49C127.35,319.91 122.73,320.25 120.00,320.92C118.31,321.33 117.36,321.74 116.01,322.39C114.50,323.11 112.92,324.11 111.42,325.15C109.85,326.24 108.24,327.56 106.82,328.82C105.49,330.01 104.41,331.40 103.15,332.50C101.96,333.53 100.90,334.59 99.47,335.26C97.88,336.00 96.04,336.18 93.96,336.54C91.29,337.01 88.19,337.51 84.76,337.65C80.44,337.82 73.78,337.17 70.06,337.10C67.78,337.05 66.05,336.85 64.54,337.10C63.45,337.27 62.71,337.71 61.79,338.01" fill="none" stroke="#3f2" stroke-width="1.7" stroke-linejoin="round" stroke-linecap="round" clip-path="url(#cp3)"/>
<rect x="49.55" y="236.1" width="206.64999999999998" height="177.70000000000002" fill="none" stroke="#000" stroke-width="1.3"/>
<path d="M70.22,413.8v-3.4M70.22,236.1v3.4M90.88,413.8v-6.5M90.88,236.1v6.5M111.54,413.8v-3.4M111.54,236.1v3.4M132.21,413.8v-6.5M132.21,236.1v6.5M152.88,413.8v-3.4M152.88,236.1v3.4M173.54,413.8v-6.5M173.54,236.1v6.5M194.20,413.8v-3.4M194.20,236.1v3.4M214.87,413.8v-6.5M214.87,236.1v6.5M235.53,413.8v-3.4M235.53,236.1v3.4M49.55,397.84h3.4M256.2,397.84h-3.4M49.55,381.70h6.5M256.2,381.70h-6.5M49.55,365.56h3.4M256.2,365.56h-3.4M49.55,349.42h6.5M256.2,349.42h-6.5M49.55,333.29h3.4M256.2,333.29h-3.4M49.55,317.15h6.5M256.2,317.15h-6.5M49.55,301.01h3.4M256.2,301.01h-3.4M49.55,284.88h6.5M256.2,284.88h-6.5M49.55,268.74h3.4M256.2,268.74h-3.4M49.55,252.60h6.5M256.2,252.60h-6.5" stroke="#000" stroke-width="1.15" fill="none"/>
<text x="49.55" y="429.20" text-anchor="middle" class="tl">0.0</text>
<text x="90.88" y="429.20" text-anchor="middle" class="tl">0.2</text>
<text x="132.21" y="429.20" text-anchor="middle" class="tl">0.4</text>
<text x="173.54" y="429.20" text-anchor="middle" class="tl">0.6</text>
<text x="214.87" y="429.20" text-anchor="middle" class="tl">0.8</text>
<text x="256.20" y="429.20" text-anchor="middle" class="tl">1.0</text>
<text x="44.45" y="416.87" text-anchor="end" class="tl">-150</text>
<text x="44.45" y="384.60" text-anchor="end" class="tl">-100</text>
<text x="44.45" y="352.32" text-anchor="end" class="tl">-50</text>
<text x="44.45" y="320.05" text-anchor="end" class="tl">0</text>
<text x="44.45" y="287.77" text-anchor="end" class="tl">50</text>
<text x="44.45" y="255.50" text-anchor="end" class="tl">100</text>
<text x="67.1" y="261.0" class="tt">Pt(111)</text>
<text x="156.10" y="449.40" text-anchor="middle" class="xl"><tspan font-style="italic">E vs. RHE/</tspan>V</text>
<text transform="translate(16.1,350.90) rotate(-90)" class="yl"><tspan font-style="italic">j</tspan>/μA cm<tspan dx="4.5" dy="-6" font-size="7.5">-2</tspan></text>
<clipPath id="cp4"><rect x="285.75" y="233.1" width="206.35000000000002" height="180.70000000000002"/></clipPath>
<path d="M298.34,343.42C298.15,334.53 296.43,320.65 297.79,316.76C298.23,315.49 298.88,315.16 299.62,314.56C300.40,313.93 301.28,313.52 302.38,313.09C303.88,312.50 306.04,311.92 307.90,311.62C309.72,311.32 311.58,311.16 313.41,311.25C315.26,311.34 317.10,311.77 318.93,312.17C320.77,312.57 322.60,313.18 324.44,313.64C326.28,314.10 328.11,314.56 329.96,314.93C331.79,315.29 333.97,316.15 335.47,315.85C336.64,315.60 337.66,315.02 338.36,313.99C339.36,312.50 339.33,309.54 339.68,306.95C340.10,303.80 340.34,300.70 340.56,296.39C340.90,289.63 340.89,278.53 341.06,270.27C341.20,262.82 341.24,254.95 341.48,249.01C341.66,244.72 341.95,237.95 342.16,237.95C342.37,237.95 342.59,244.72 342.76,249.01C342.99,254.95 343.12,262.82 343.27,270.27C343.42,278.53 343.46,289.30 343.64,296.39C343.76,301.26 343.73,304.96 344.08,308.71C344.37,311.90 344.54,315.40 345.40,317.51C345.95,318.88 346.59,319.80 347.60,320.59C348.72,321.47 350.28,321.92 351.99,322.35C354.22,322.90 357.22,323.28 359.91,323.23C362.73,323.17 365.80,322.40 368.56,321.91C371.11,321.46 373.90,320.73 375.91,320.44C377.29,320.25 378.06,320.29 379.41,320.15C381.27,319.95 383.82,319.34 386.03,319.26C388.23,319.19 390.29,319.39 392.65,319.71C395.39,320.07 398.52,321.03 401.47,321.47C404.40,321.91 407.35,322.10 410.29,322.35C413.23,322.61 416.01,322.87 419.12,323.01C422.59,323.18 426.47,323.20 430.15,323.24C433.82,323.27 437.50,323.20 441.18,323.24C444.85,323.27 448.86,323.37 452.21,323.46C455.01,323.52 458.56,323.09 459.93,323.68C460.54,323.94 461.03,324.41 461.03,324.78C461.03,325.15 460.54,325.61 459.93,325.88C458.56,326.49 455.01,326.19 452.21,326.32C448.86,326.49 444.85,326.65 441.18,326.76C437.50,326.87 433.82,326.91 430.15,326.99C426.47,327.06 422.79,327.02 419.12,327.21C415.44,327.39 411.76,327.68 408.09,328.09C404.41,328.49 400.53,329.09 397.06,329.63C393.95,330.12 390.97,331.03 388.24,331.18C385.88,331.30 383.88,331.11 381.62,330.74C379.17,330.33 376.41,329.14 374.07,328.71C372.11,328.35 370.53,328.31 368.56,328.16C366.29,327.99 363.66,327.79 361.21,327.79C358.75,327.79 356.11,327.81 353.85,328.16C351.86,328.47 349.78,328.80 348.34,329.63C347.15,330.32 346.25,331.25 345.58,332.39C344.84,333.65 344.57,334.96 344.29,336.99C343.79,340.74 344.51,349.00 344.37,353.34C344.27,356.23 344.04,357.52 343.86,360.53C343.55,365.61 343.12,374.17 342.83,381.06C342.54,388.02 342.33,402.10 342.11,402.10C341.89,402.10 341.81,388.02 341.50,381.06C341.19,374.17 340.60,365.61 340.26,360.53C340.07,357.52 339.92,355.98 339.75,353.34C339.54,350.10 339.62,345.49 339.15,342.50C338.80,340.33 338.72,338.22 337.68,336.99C336.76,335.90 335.12,335.55 333.63,335.15C331.97,334.70 330.08,334.50 328.12,334.60C325.83,334.71 323.20,335.43 320.76,336.07C318.29,336.71 315.71,337.93 313.41,338.46C311.46,338.90 309.74,339.07 307.90,339.19C306.06,339.31 303.87,338.82 302.38,339.19C301.26,339.47 300.30,339.95 299.62,340.66C298.96,341.36 298.77,342.50 298.34,343.42" fill="none" stroke="#000" stroke-width="1.7" stroke-linejoin="round" stroke-linecap="round" clip-path="url(#cp4)"/>
<path d="M297.24,342.50C297.11,337.60 296.71,332.12 296.87,327.79C297.00,324.37 297.03,320.71 297.79,318.60C298.24,317.34 298.73,316.62 299.62,315.85C300.73,314.89 302.47,314.23 304.22,313.64C306.35,312.93 309.12,312.26 311.57,312.17C314.02,312.08 316.48,312.69 318.93,313.09C321.38,313.49 323.83,314.10 326.28,314.56C328.73,315.02 332.11,315.13 333.63,315.85C334.45,316.23 334.61,317.02 335.28,317.24C336.02,317.49 337.15,317.56 337.92,317.07C339.03,316.36 339.91,314.05 340.56,312.23C341.30,310.15 341.49,307.78 341.88,305.19C342.34,302.04 342.62,297.85 343.02,294.63C343.36,291.92 343.83,287.14 344.08,287.16C344.35,287.17 344.31,293.21 344.52,296.39C344.74,299.80 345.01,303.60 345.40,306.95C345.75,310.02 345.96,313.37 346.72,315.75C347.28,317.52 347.88,318.97 348.91,320.15C349.94,321.31 351.29,322.14 352.87,322.79C354.82,323.58 357.32,323.86 359.91,324.11C363.05,324.40 366.56,323.98 370.40,324.12C375.09,324.29 381.27,325.29 386.03,325.22C390.03,325.16 393.38,324.49 397.06,324.12C400.74,323.75 404.41,323.38 408.09,323.01C411.76,322.65 415.65,322.39 419.12,321.91C422.23,321.48 425.25,321.17 427.94,320.37C430.35,319.65 432.35,318.42 434.56,317.50C436.76,316.58 438.95,315.59 441.18,314.85C443.36,314.13 445.58,313.19 447.79,313.09C449.99,312.98 452.23,313.65 454.41,314.19C456.64,314.74 459.04,315.82 461.03,316.40C462.64,316.87 464.07,317.42 465.44,317.50C466.62,317.57 467.90,317.44 468.75,317.06C469.42,316.76 469.92,315.59 470.29,315.74C470.95,315.99 470.93,319.91 470.96,321.91C470.98,323.80 471.33,326.48 470.51,327.43C469.92,328.12 468.70,327.78 467.65,328.09C466.32,328.47 464.69,329.02 463.24,329.63C461.74,330.26 460.47,331.16 458.82,331.84C456.87,332.65 454.44,333.57 452.21,334.04C450.03,334.51 447.80,334.52 445.59,334.71C443.38,334.89 441.15,335.43 438.97,335.15C436.74,334.86 434.55,333.74 432.35,332.94C430.14,332.13 427.97,330.96 425.74,330.29C423.56,329.65 421.61,329.39 419.12,328.97C415.92,328.43 411.77,327.76 408.09,327.43C404.42,327.10 400.74,327.10 397.06,326.99C393.38,326.88 390.02,326.91 386.03,326.76C381.27,326.59 374.92,326.07 370.40,325.96C366.93,325.87 364.09,325.78 361.21,325.96C358.61,326.12 356.12,326.47 353.85,326.88C351.87,327.23 349.79,327.42 348.34,328.16C347.17,328.76 346.24,329.41 345.58,330.55C344.69,332.08 344.42,334.78 344.29,336.99C344.16,339.29 344.98,341.82 344.88,344.11C344.79,346.24 344.20,347.95 343.86,350.26C343.41,353.25 342.95,360.53 342.52,360.53C342.09,360.53 341.79,353.49 341.29,350.26C340.85,347.37 340.33,344.45 339.75,342.05C339.29,340.15 339.28,338.14 338.23,336.99C337.21,335.87 335.27,335.52 333.63,335.15C331.91,334.75 330.08,334.63 328.12,334.78C325.83,334.96 323.21,335.82 320.76,336.43C318.31,337.05 315.88,338.00 313.41,338.46C310.98,338.91 308.23,339.08 306.06,339.19C304.35,339.28 302.78,338.94 301.46,339.19C300.40,339.39 299.42,339.72 298.71,340.29C298.03,340.84 297.73,341.76 297.24,342.50" fill="none" stroke="#f00" stroke-width="1.7" stroke-linejoin="round" stroke-linecap="round" clip-path="url(#cp4)"/>
<path d="M298.34,338.82C298.34,331.78 297.35,320.83 298.34,317.68C298.66,316.66 299.02,316.30 299.62,315.85C300.31,315.33 301.29,315.14 302.38,314.93C303.89,314.63 305.93,314.50 307.90,314.56C310.17,314.62 312.80,315.11 315.25,315.48C317.71,315.85 320.15,316.31 322.60,316.76C325.06,317.22 327.50,317.78 329.96,318.24C332.40,318.69 334.86,319.09 337.31,319.52C339.76,319.95 342.21,320.35 344.66,320.81C347.12,321.27 349.73,321.98 352.01,322.28C353.98,322.54 355.70,322.80 357.53,322.65C359.38,322.50 361.46,322.10 363.04,321.36C364.47,320.69 365.72,319.94 366.72,318.60C368.03,316.86 368.65,313.86 369.48,311.25C370.39,308.38 371.15,304.42 371.87,302.06C372.33,300.55 372.79,298.37 373.15,298.38C373.52,298.40 373.81,300.55 374.07,302.06C374.48,304.42 374.67,308.36 374.99,311.25C375.28,313.84 375.24,316.80 375.91,318.60C376.36,319.81 376.94,320.50 377.75,321.36C378.70,322.37 380.26,323.49 381.43,324.12C382.32,324.60 382.79,324.82 384.00,325.04C386.65,325.52 392.89,325.40 397.06,325.22C400.90,325.06 404.41,324.49 408.09,324.12C411.76,323.75 415.45,323.56 419.12,323.01C422.81,322.46 427.00,321.89 430.15,320.81C432.70,319.93 434.87,318.86 436.76,317.50C438.50,316.25 439.75,314.68 441.18,313.09C442.70,311.39 444.01,309.10 445.59,307.57C446.98,306.23 448.56,304.85 450.00,304.26C451.12,303.81 452.14,303.70 453.31,303.82C454.69,303.96 456.49,304.37 457.72,305.37C459.16,306.54 459.78,309.09 461.03,310.88C462.34,312.77 463.85,314.95 465.44,316.40C466.82,317.65 468.83,318.20 469.85,319.26C470.63,320.08 471.10,320.82 471.40,321.91C471.79,323.37 471.83,326.05 471.40,327.43C471.09,328.39 470.58,328.88 469.85,329.63C468.81,330.71 466.85,331.66 465.44,332.94C463.90,334.34 462.38,336.24 461.03,337.79C459.83,339.17 458.85,340.53 457.72,341.76C456.64,342.94 455.63,344.57 454.41,345.07C453.39,345.50 452.16,345.39 451.10,345.07C449.94,344.72 448.93,343.80 447.79,342.87C446.37,341.70 444.85,339.93 443.38,338.46C441.91,336.99 440.51,335.29 438.97,334.04C437.56,332.90 436.24,331.98 434.56,331.18C432.63,330.25 430.34,329.48 427.94,328.97C425.24,328.39 422.23,328.34 419.12,328.09C415.65,327.81 411.76,327.65 408.09,327.43C404.41,327.21 400.89,326.86 397.06,326.76C392.89,326.66 387.20,326.66 384.00,326.88C382.14,327.00 381.07,327.22 379.59,327.43C378.07,327.64 376.26,327.57 374.99,328.16C373.87,328.69 373.08,329.54 372.24,330.55C371.21,331.77 370.32,333.52 369.48,335.15C368.59,336.87 367.82,339.01 367.09,340.66C366.49,342.01 365.96,344.35 365.43,344.34C364.92,344.33 364.39,342.03 363.96,340.66C363.45,339.03 363.18,336.83 362.68,335.15C362.24,333.68 362.10,332.02 361.21,331.10C360.35,330.22 358.91,329.95 357.53,329.63C355.90,329.26 353.98,329.23 352.01,329.26C349.74,329.30 347.10,329.58 344.66,330.00C342.20,330.43 339.77,331.29 337.31,331.84C334.86,332.39 332.54,332.79 329.96,333.31C327.06,333.89 323.83,334.53 320.76,335.15C317.70,335.76 314.47,336.41 311.57,336.99C308.99,337.50 306.39,338.07 304.22,338.46C302.51,338.76 300.68,339.25 299.62,339.19C299.06,339.16 298.77,338.95 298.34,338.82" fill="none" stroke="#3f2" stroke-width="1.7" stroke-linejoin="round" stroke-linecap="round" clip-path="url(#cp4)"/>
<rect x="285.75" y="236.1" width="206.35000000000002" height="177.70000000000002" fill="none" stroke="#000" stroke-width="1.3"/>
<path d="M306.38,413.8v-3.4M306.38,236.1v3.4M327.02,413.8v-6.5M327.02,236.1v6.5M347.65,413.8v-3.4M347.65,236.1v3.4M368.29,413.8v-6.5M368.29,236.1v6.5M388.93,413.8v-3.4M388.93,236.1v3.4M409.56,413.8v-6.5M409.56,236.1v6.5M430.19,413.8v-3.4M430.19,236.1v3.4M450.83,413.8v-6.5M450.83,236.1v6.5M471.47,413.8v-3.4M471.47,236.1v3.4M285.75,399.25h3.4M492.1,399.25h-3.4M285.75,384.40h6.5M492.1,384.40h-6.5M285.75,369.55h3.4M492.1,369.55h-3.4M285.75,354.70h6.5M492.1,354.70h-6.5M285.75,339.85h3.4M492.1,339.85h-3.4M285.75,325.00h6.5M492.1,325.00h-6.5M285.75,310.15h3.4M492.1,310.15h-3.4M285.75,295.30h6.5M492.1,295.30h-6.5M285.75,280.45h3.4M492.1,280.45h-3.4M285.75,265.60h6.5M492.1,265.60h-6.5M285.75,250.75h3.4M492.1,250.75h-3.4" stroke="#000" stroke-width="1.15" fill="none"/>
<text x="285.75" y="429.00" text-anchor="middle" class="tl">0.0</text>
<text x="327.02" y="429.00" text-anchor="middle" class="tl">0.2</text>
<text x="368.29" y="429.00" text-anchor="middle" class="tl">0.4</text>
<text x="409.56" y="429.00" text-anchor="middle" class="tl">0.6</text>
<text x="450.83" y="429.00" text-anchor="middle" class="tl">0.8</text>
<text x="492.10" y="429.00" text-anchor="middle" class="tl">1.0</text>
<text x="499.10" y="418.10" text-anchor="start" class="tl">-300</text>
<text x="499.10" y="388.40" text-anchor="start" class="tl">-200</text>
<text x="499.10" y="358.70" text-anchor="start" class="tl">-100</text>
<text x="499.10" y="329.00" text-anchor="start" class="tl">0</text>
<text x="499.10" y="299.30" text-anchor="start" class="tl">100</text>
<text x="499.10" y="269.60" text-anchor="start" class="tl">200</text>
<text x="499.10" y="239.90" text-anchor="start" class="tl">300</text>
<text x="375.9" y="265.8" class="tt">Pt(322)</text>
<text x="392.50" y="448.80" text-anchor="middle" class="xl" font-style="italic">Scan rate 50 mV s 1./V</text>
<text transform="translate(538.9,350.50) rotate(-90)" class="yl"><tspan font-style="italic">j</tspan>/μA cm<tspan dx="4.5" dy="-6" font-size="7.5">-2</tspan></text>
<clipPath id="cp5"><rect x="49.6" y="463.3" width="206.65" height="180.49999999999994"/></clipPath>
<path d="M61.79,584.45C61.79,567.60 60.31,538.49 61.79,533.90C62.05,533.08 62.35,532.84 62.71,532.61C62.98,532.43 63.32,532.32 63.62,532.43C64.06,532.57 64.47,533.37 64.91,533.90C65.39,534.47 65.75,535.21 66.38,535.74C67.11,536.34 68.29,536.99 69.14,537.21C69.79,537.37 70.48,537.50 70.98,537.21C71.58,536.85 71.92,535.93 72.26,534.82C72.94,532.65 73.09,528.00 73.37,524.71C73.63,521.57 73.81,519.29 73.92,515.51C74.10,509.44 73.74,498.18 73.90,491.76C74.00,487.39 74.20,480.74 74.45,480.74C74.69,480.73 75.10,487.94 75.37,491.76C75.66,495.89 75.86,499.87 76.10,504.63C76.41,510.58 76.65,519.31 77.04,524.71C77.31,528.36 77.34,531.56 77.96,533.90C78.38,535.44 78.75,536.71 79.62,537.57C80.44,538.39 81.65,538.68 82.93,539.04C84.50,539.49 86.47,539.50 88.44,539.78C90.72,540.10 93.53,540.45 95.79,540.88C97.77,541.26 99.69,541.58 101.31,542.17C102.69,542.67 103.79,543.27 104.99,544.01C106.25,544.79 107.40,545.98 108.66,546.76C109.85,547.50 110.96,548.08 112.34,548.60C113.96,549.22 116.00,549.77 117.85,550.07C119.68,550.37 121.53,550.53 123.37,550.44C125.21,550.35 127.30,550.20 128.88,549.52C130.32,548.91 131.33,547.68 132.56,546.76C133.78,545.85 134.97,544.79 136.24,544.01C137.43,543.27 138.59,542.59 139.91,542.17C141.30,541.72 142.92,541.44 144.41,541.47C145.89,541.50 147.23,541.86 148.82,542.35C150.84,542.98 153.24,544.26 155.44,545.22C157.65,546.18 159.65,547.37 162.06,548.09C164.75,548.89 167.63,549.21 170.88,549.63C174.84,550.14 179.70,550.44 184.12,550.74C188.53,551.03 192.94,551.21 197.35,551.40C201.76,551.58 206.38,551.68 210.59,551.84C214.43,551.98 218.86,552.15 221.62,552.28C223.27,552.36 224.95,552.04 225.59,552.50C225.94,552.75 226.19,553.33 226.03,553.60C225.72,554.12 223.42,553.90 221.62,554.04C218.77,554.27 214.43,554.46 210.59,554.71C206.38,554.97 201.76,555.22 197.35,555.59C192.94,555.96 188.53,556.43 184.12,556.91C179.70,557.39 174.83,557.74 170.88,558.46C167.62,559.05 164.75,559.75 162.06,560.66C159.66,561.48 157.67,562.68 155.44,563.53C153.25,564.37 150.83,565.41 148.82,565.74C147.23,565.99 145.87,565.95 144.41,565.74C142.92,565.52 141.32,565.21 140.00,564.41C138.57,563.55 137.54,561.63 136.24,560.55C135.05,559.58 133.82,558.78 132.56,558.16C131.37,557.58 130.25,557.11 128.88,556.88C127.25,556.60 125.19,556.66 123.37,556.88C121.52,557.09 119.66,557.56 117.85,558.16C115.99,558.78 113.94,559.62 112.34,560.55C110.93,561.37 109.94,562.59 108.66,563.31C107.48,563.97 106.34,564.28 104.99,564.78C103.34,565.38 101.33,566.16 99.47,566.62C97.65,567.07 95.79,567.23 93.96,567.54C92.12,567.84 90.42,568.19 88.44,568.46C86.17,568.76 82.91,568.64 81.09,569.19C79.90,569.55 79.00,569.70 78.33,570.66C77.17,572.32 77.40,576.53 77.04,579.85C76.63,583.78 76.34,587.76 76.12,592.72C75.83,599.49 75.99,610.14 75.74,616.76C75.55,621.44 75.21,628.71 75.00,628.71C74.79,628.71 74.62,620.95 74.45,616.76C74.25,612.12 74.02,606.97 73.90,602.06C73.78,597.12 73.95,591.79 73.74,587.21C73.55,583.25 73.49,579.02 72.82,576.18C72.37,574.27 71.92,572.47 70.98,571.58C70.25,570.90 69.00,570.48 68.22,570.66C67.48,570.84 66.91,571.64 66.38,572.50C65.59,573.79 65.16,576.18 64.54,578.01C63.93,579.85 63.34,582.50 62.71,583.53C62.40,584.02 62.09,584.14 61.79,584.45" fill="none" stroke="#000" stroke-width="1.7" stroke-linejoin="round" stroke-linecap="round" clip-path="url(#cp5)"/>
<path d="M61.24,584.45C61.24,578.01 61.17,572.15 61.24,565.15C61.32,556.77 60.59,540.37 61.79,537.57C62.05,536.97 62.30,536.82 62.71,536.65C63.18,536.46 63.95,536.51 64.54,536.65C65.17,536.80 65.70,537.29 66.38,537.57C67.20,537.91 68.26,538.51 69.14,538.49C69.97,538.47 70.94,538.25 71.53,537.57C72.41,536.56 72.47,534.23 72.82,532.06C73.29,529.03 73.55,524.96 73.74,521.03C73.95,516.52 73.72,510.50 73.90,506.47C74.02,503.60 74.24,501.28 74.45,499.12C74.62,497.40 74.79,494.53 75.00,494.52C75.21,494.52 75.51,497.40 75.74,499.12C76.02,501.28 76.27,503.60 76.47,506.47C76.75,510.50 76.77,516.52 77.04,521.03C77.29,524.96 77.49,529.03 77.96,532.06C78.30,534.23 78.36,536.41 79.25,537.57C79.91,538.44 80.86,538.67 82.01,539.04C83.67,539.59 86.23,539.61 88.44,539.96C90.81,540.34 93.53,540.75 95.79,541.25C97.77,541.69 99.68,542.10 101.31,542.72C102.69,543.24 103.77,543.89 104.99,544.56C106.22,545.24 107.30,546.02 108.66,546.76C110.30,547.66 112.17,548.70 114.18,549.52C116.42,550.44 118.91,551.31 121.53,551.91C124.40,552.57 127.65,552.89 130.72,553.20C133.78,553.50 136.70,553.77 139.91,553.75C143.44,553.73 147.33,553.15 151.03,552.94C154.71,552.73 158.38,552.68 162.06,552.50C165.74,552.32 169.90,552.30 173.09,551.84C175.59,551.47 177.53,551.01 179.71,550.29C181.95,549.55 184.11,548.35 186.32,547.43C188.52,546.51 190.71,545.52 192.94,544.78C195.13,544.05 197.34,543.49 199.56,543.01C201.75,542.54 204.08,542.38 206.18,541.91C208.11,541.48 210.08,540.75 211.69,540.37C212.93,540.07 214.35,539.23 215.00,539.71C215.74,540.26 215.39,542.31 215.44,544.12C215.53,546.96 215.08,551.38 215.00,555.15C214.92,559.09 216.49,566.12 215.00,567.28C214.09,567.99 212.21,566.51 210.59,566.18C208.61,565.77 206.17,565.51 203.97,565.07C201.76,564.63 199.49,564.40 197.35,563.53C195.07,562.61 192.99,560.68 190.74,559.56C188.57,558.49 186.52,557.56 184.12,556.91C181.43,556.18 178.54,555.88 175.29,555.59C171.34,555.23 166.27,555.22 162.06,555.15C158.22,555.08 154.71,555.01 151.03,555.15C147.33,555.28 143.44,555.83 139.91,555.96C136.70,556.07 133.78,555.80 130.72,555.96C127.65,556.11 124.39,556.27 121.53,556.88C118.91,557.42 116.41,558.28 114.18,559.26C112.16,560.15 110.32,561.50 108.66,562.39C107.32,563.10 106.36,563.66 104.99,564.23C103.35,564.90 101.32,565.54 99.47,566.07C97.64,566.58 95.80,567.02 93.96,567.35C92.13,567.69 90.41,567.86 88.44,568.09C86.17,568.35 82.76,568.12 81.09,568.82C80.05,569.26 79.45,569.66 78.88,570.66C77.86,572.47 77.80,576.52 77.41,579.85C76.96,583.77 76.72,588.77 76.49,592.72C76.30,596.08 76.31,599.13 76.10,602.06C75.92,604.66 75.56,607.25 75.37,609.41C75.21,611.12 75.15,614.00 75.00,614.01C74.85,614.01 74.62,611.12 74.45,609.41C74.24,607.25 73.98,604.94 73.90,602.06C73.77,597.97 74.26,591.79 74.10,587.21C73.97,583.25 73.66,579.21 73.18,576.18C72.84,574.01 72.79,571.82 71.90,570.66C71.23,569.80 70.08,569.33 69.14,569.19C68.24,569.06 67.24,569.28 66.38,569.74C65.37,570.28 64.29,571.31 63.62,572.50C62.83,573.94 62.73,576.10 62.34,578.01C61.92,580.07 61.60,582.30 61.24,584.45" fill="none" stroke="#f00" stroke-width="1.7" stroke-linejoin="round" stroke-linecap="round" clip-path="url(#cp5)"/>
<path d="M62.71,570.66C62.71,561.47 60.94,545.94 62.71,543.09C63.19,542.31 63.74,542.40 64.54,542.17C65.87,541.79 67.98,541.72 70.06,541.62C72.73,541.48 76.19,541.56 79.25,541.62C82.31,541.68 85.55,541.86 88.44,541.99C91.03,542.10 93.96,542.66 95.79,542.35C96.96,542.16 97.83,542.01 98.55,541.25C99.56,540.18 99.89,537.92 100.39,535.74C101.09,532.72 101.40,528.38 101.86,524.71C102.32,521.03 102.66,516.36 103.15,513.68C103.43,512.11 103.89,510.95 104.07,510.00C104.18,509.40 104.11,508.55 104.25,508.53C104.40,508.50 104.80,509.25 104.99,510.00C105.48,511.94 105.14,517.09 105.35,521.03C105.60,525.58 105.95,531.68 106.46,535.74C106.82,538.62 107.09,541.10 107.74,543.09C108.23,544.57 108.63,545.74 109.58,546.76C110.67,547.94 112.40,548.79 114.18,549.52C116.29,550.40 118.92,550.91 121.53,551.36C124.41,551.86 127.65,552.06 130.72,552.28C133.78,552.49 136.70,552.67 139.91,552.65C143.44,552.62 147.33,552.19 151.03,552.06C154.71,551.92 158.38,551.95 162.06,551.84C165.74,551.73 169.42,551.65 173.09,551.40C176.77,551.14 180.96,551.11 184.12,550.29C186.66,549.63 188.85,548.71 190.74,547.43C192.49,546.24 193.72,544.61 195.15,543.01C196.67,541.32 198.13,539.45 199.56,537.50C201.08,535.43 202.50,533.09 203.97,530.88C205.44,528.68 206.83,525.67 208.38,524.26C209.45,523.30 210.63,522.38 211.69,522.50C212.84,522.63 214.11,524.12 215.00,525.37C216.03,526.82 216.50,528.95 217.21,530.88C217.97,532.98 218.50,535.63 219.41,537.50C220.17,539.05 221.03,540.53 222.06,541.47C222.91,542.25 224.32,542.16 224.93,543.01C225.63,544.02 225.46,545.75 225.59,547.43C225.75,549.64 225.77,553.00 225.59,555.15C225.46,556.69 225.55,558.08 224.93,559.12C224.33,560.11 222.91,560.33 222.06,561.32C221.01,562.55 220.19,564.40 219.41,566.18C218.54,568.18 217.94,570.59 217.21,572.79C216.47,575.00 216.07,577.68 215.00,579.41C214.12,580.83 212.84,582.61 211.69,582.72C210.63,582.83 209.46,581.59 208.38,580.51C206.86,578.99 205.44,576.10 203.97,573.90C202.50,571.69 201.08,569.35 199.56,567.28C198.13,565.32 196.69,563.40 195.15,561.76C193.74,560.27 192.48,558.81 190.74,557.79C188.85,556.69 186.63,556.18 184.12,555.59C180.94,554.84 176.77,554.30 173.09,554.04C169.42,553.79 165.74,554.08 162.06,554.04C158.38,554.01 154.71,553.66 151.03,553.82C147.33,553.99 143.45,554.84 139.91,555.04C136.71,555.21 133.78,554.88 130.72,555.04C127.65,555.19 124.41,555.52 121.53,555.96C118.93,556.34 116.42,556.76 114.18,557.43C112.18,558.02 109.97,558.51 108.66,559.63C107.55,560.58 107.07,561.82 106.46,563.31C105.63,565.29 105.14,567.95 104.62,570.66C103.99,573.95 103.63,577.94 103.15,581.69C102.65,585.59 102.15,593.64 101.68,593.64C101.24,593.64 100.83,586.82 100.39,583.53C99.97,580.39 99.61,577.12 99.10,574.34C98.67,571.99 98.59,569.30 97.63,567.90C96.95,566.92 96.05,566.37 94.88,566.07C93.23,565.64 90.78,566.40 88.44,566.62C85.65,566.88 82.31,567.17 79.25,567.54C76.18,567.90 72.73,568.41 70.06,568.82C67.98,569.14 65.87,569.31 64.54,569.74C63.74,570.00 63.32,570.36 62.71,570.66" fill="none" stroke="#3f2" stroke-width="1.7" stroke-linejoin="round" stroke-linecap="round" clip-path="url(#cp5)"/>
<rect x="49.6" y="466.3" width="206.65" height="177.49999999999994" fill="none" stroke="#000" stroke-width="1.3"/>
<path d="M70.27,643.8v-3.4M70.27,466.3v3.4M90.93,643.8v-6.5M90.93,466.3v6.5M111.59,643.8v-3.4M111.59,466.3v3.4M132.26,643.8v-6.5M132.26,466.3v6.5M152.93,643.8v-3.4M152.93,466.3v3.4M173.59,643.8v-6.5M173.59,466.3v6.5M194.25,643.8v-3.4M194.25,466.3v3.4M214.92,643.8v-6.5M214.92,466.3v6.5M235.59,643.8v-3.4M235.59,466.3v3.4M49.6,632.44h3.4M256.25,632.44h-3.4M49.6,621.38h6.5M256.25,621.38h-6.5M49.6,610.31h3.4M256.25,610.31h-3.4M49.6,599.25h6.5M256.25,599.25h-6.5M49.6,588.19h3.4M256.25,588.19h-3.4M49.6,577.12h6.5M256.25,577.12h-6.5M49.6,566.06h3.4M256.25,566.06h-3.4M49.6,555.00h6.5M256.25,555.00h-6.5M49.6,543.94h3.4M256.25,543.94h-3.4M49.6,532.88h6.5M256.25,532.88h-6.5M49.6,521.81h3.4M256.25,521.81h-3.4M49.6,510.75h6.5M256.25,510.75h-6.5M49.6,499.69h3.4M256.25,499.69h-3.4M49.6,488.62h6.5M256.25,488.62h-6.5M49.6,477.56h3.4M256.25,477.56h-3.4" stroke="#000" stroke-width="1.15" fill="none"/>
<text x="49.60" y="659.10" text-anchor="middle" class="tl">0.0</text>
<text x="90.93" y="659.10" text-anchor="middle" class="tl">0.2</text>
<text x="132.26" y="659.10" text-anchor="middle" class="tl">0.4</text>
<text x="173.59" y="659.10" text-anchor="middle" class="tl">0.6</text>
<text x="214.92" y="659.10" text-anchor="middle" class="tl">0.8</text>
<text x="256.25" y="659.10" text-anchor="middle" class="tl">1.0</text>
<text x="44.50" y="647.10" text-anchor="end" class="tl">-200</text>
<text x="44.50" y="624.98" text-anchor="end" class="tl">-150</text>
<text x="44.50" y="602.85" text-anchor="end" class="tl">-100</text>
<text x="44.50" y="580.73" text-anchor="end" class="tl">-50</text>
<text x="44.50" y="558.60" text-anchor="end" class="tl">0</text>
<text x="44.50" y="536.48" text-anchor="end" class="tl">50</text>
<text x="44.50" y="514.35" text-anchor="end" class="tl">100</text>
<text x="44.50" y="492.23" text-anchor="end" class="tl">150</text>
<text x="44.50" y="470.10" text-anchor="end" class="tl">200</text>
<text x="119.2" y="493.0" class="tt">Pt(554)</text>
<text x="153.70" y="677.30" text-anchor="middle" class="xl"><tspan font-style="italic">E vs. RHE/</tspan>V</text>
<text transform="translate(16.2,580.60) rotate(-90)" class="yl"><tspan font-style="italic">j</tspan>/μA cm<tspan dx="4.5" dy="-6" font-size="7.5">2</tspan></text>
<rect x="336.5" y="504.8" width="120.1" height="65" fill="none" stroke="#000" stroke-width="1"/>
<line x1="340.8" y1="515.5" x2="374.7" y2="515.5" stroke="#000" stroke-width="1.1"/>
<text x="378.3" y="520.7" class="lg">0.5 M H<tspan dy="4.5" font-size="9.5">2</tspan><tspan dy="-4.5">SO</tspan><tspan dy="4.5" font-size="9.5">4</tspan></text>
<line x1="340.8" y1="537.8" x2="374.7" y2="537.8" stroke="#f00" stroke-width="1.1"/>
<text x="378.3" y="543.0" class="lg">0.1 M HClO<tspan dy="4.5" font-size="9.5">4</tspan></text>
<line x1="340.8" y1="560.5" x2="374.7" y2="560.5" stroke="#3e3" stroke-width="1.1"/>
<text x="378.3" y="565.7" class="lg">0.1 M NaOH</text>
</svg>
</body></html>
